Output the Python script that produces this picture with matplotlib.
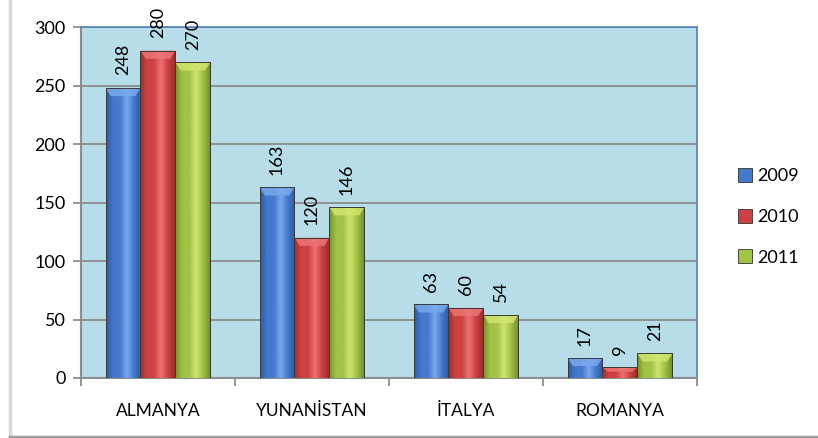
import numpy as np
import matplotlib.pyplot as plt
from matplotlib.patches import Rectangle, Polygon
from matplotlib.lines import Line2D
from matplotlib.colors import LinearSegmentedColormap

# data
countries = ['ALMANYA', 'YUNANİSTAN', 'İTALYA', 'ROMANYA']
years = ['2009', '2010', '2011']
v2009 = [248, 163, 63, 17]
v2010 = [280, 120, 60, 9]
v2011 = [270, 146, 54, 21]
series = [v2009, v2010, v2011]

# light / mid / dark shades for the bevelled Excel look
shades = [('#79a8ec', '#4479cc', '#2d5aa3'),
          ('#ec7474', '#cf4141', '#9c2e2e'),
          ('#cfe56f', '#a2c345', '#76922c')]

plt.rcParams['font.family'] = ['Lato', 'DejaVu Sans']

fig = plt.figure(figsize=(8.18, 4.38), dpi=100)
# chart frame: soft shadow on the left, gray line at the bottom
fig.add_artist(Line2D([0.0128, 0.0128], [0.003, 1.0], transform=fig.transFigure,
                      color='#d9d9d9', lw=2.5, zorder=-1))
fig.add_artist(Line2D([0.012, 1.0], [0.003, 0.003], transform=fig.transFigure,
                      color='#a0a0a0', lw=2.5, zorder=-1))

ax = fig.add_axes([0.099, 0.137, 0.753, 0.801])
ax.set_zorder(2)
ax.set_facecolor('#b7dde8')

x = np.arange(len(countries))
w = 0.227
for i, vals in enumerate(series):
    light, mid, dark = shades[i]
    cmap = LinearSegmentedColormap.from_list('c%d' % i, [dark, mid, mid, light, mid, dark])
    grad = np.linspace(0, 1, 64).reshape(1, -1)
    xs = x + (i - 1) * w
    bars = ax.bar(xs, vals, w, color=mid, edgecolor='#333333', lw=0.6, zorder=3,
                  label=years[i])
    for b, v in zip(bars, vals):
        x0 = b.get_x()
        im = ax.imshow(grad, cmap=cmap, aspect='auto', zorder=3.5,
                       extent=(x0, x0 + w, 0, v), interpolation='bicubic')
        im.set_clip_path(b)
        dh = min(7, v * 0.4)
        dx = w * 0.15
        ax.add_patch(Polygon([(x0, v), (x0 + w, v), (x0 + w - dx, v - dh), (x0 + dx, v - dh)],
                             closed=True, facecolor=light, edgecolor='none', alpha=0.85, zorder=4))
        ax.add_patch(Rectangle((x0, 0), w, v, facecolor='none',
                               edgecolor='#3a3a3a', lw=0.7, zorder=4.5))
        ax.annotate(str(v), (x0 + w / 2, v), xytext=(0, 9), textcoords='offset points',
                    rotation=90, ha='center', va='bottom', fontsize=13, zorder=5)

ax.set_xlim(-0.5, 3.5)
ax.set_ylim(0, 300)
ax.set_yticks(np.arange(0, 301, 50))
ax.yaxis.grid(True, color='#8c8c8c', lw=1.3, zorder=1)
ax.set_axisbelow(True)
ax.set_xticks(x)
ax.set_xticklabels(countries, fontsize=12.5)
ax.set_xticks(np.arange(-0.5, 4, 1), minor=True)
ax.tick_params(axis='x', which='major', length=0, pad=18)
ax.tick_params(axis='x', which='minor', length=6, width=1.3, color='#8c8c8c')
ax.tick_params(axis='y', length=6, width=1.3, color='#8c8c8c', labelsize=13, pad=5)
for s in ['left', 'bottom']:
    ax.spines[s].set_color('#8c8c8c')
    ax.spines[s].set_linewidth(1.5)
for s in ['top', 'right']:
    ax.spines[s].set_color('#4f81bd')
    ax.spines[s].set_linewidth(1.2)

leg = ax.legend(loc='center left', bbox_to_anchor=(1.04, 0.459), frameon=False,
                fontsize=13, handlelength=0.8, handleheight=0.8, handletextpad=0.25,
                labelspacing=1.35)

fig.savefig('out.png', dpi=100)
